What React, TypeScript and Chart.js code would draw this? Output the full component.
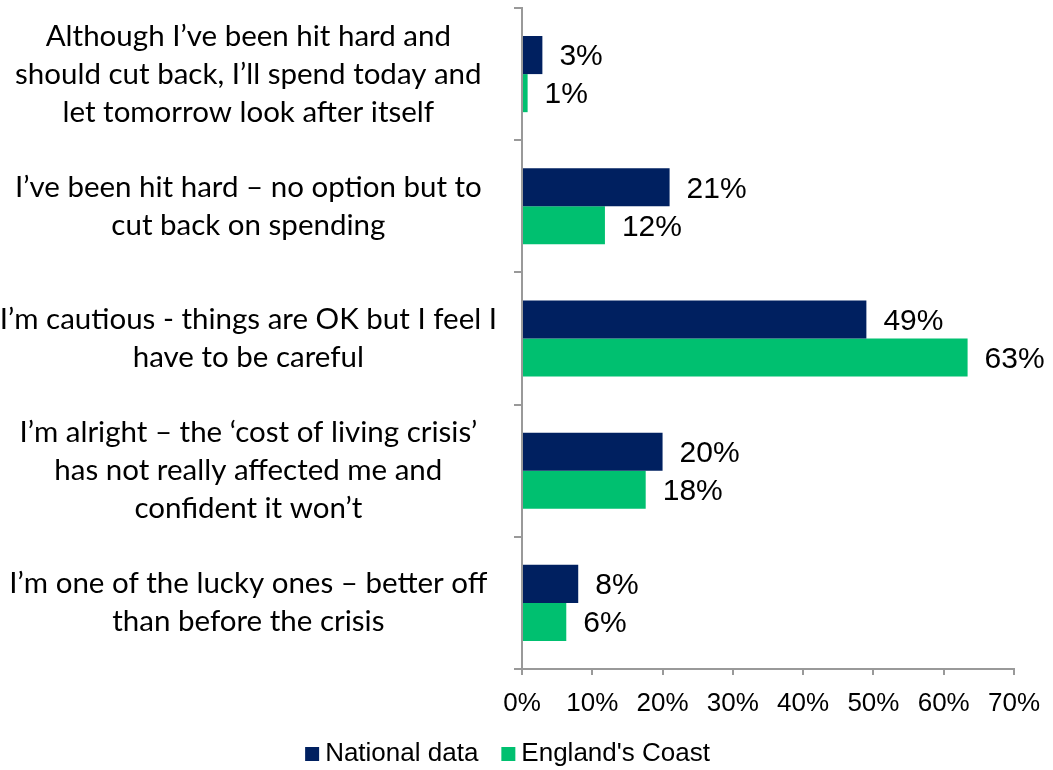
import React, { useEffect, useRef } from "react";
import { Chart, registerables } from "chart.js";

Chart.register(...registerables);

const categories: string[][] = [
  ["Although I’ve been hit hard and", "should cut back, I’ll spend today and", "let tomorrow look after itself"],
  ["I’ve been hit hard – no option but to", "cut back on spending"],
  ["I’m cautious - things are OK but I feel I", "have to be careful"],
  ["I’m alright – the ‘cost of living crisis’", "has not really affected me and", "confident it won’t"],
  ["I’m one of the lucky ones – better off", "than before the crisis"],
];

const nationalData = [2.9, 21.0, 49.0, 20.0, 8.0];
const coastData = [0.8, 11.8, 63.4, 17.6, 6.3];
const seriesNames = ["National data", "England's Coast"];
const xTickMax = 70;
const xTickStep = 10;

const ARIAL = '"Liberation Sans", Arial, sans-serif';

const dataLabelPlugin = {
  id: "dataLabels",
  afterDatasetsDraw(chart: any) {
    const ctx = chart.ctx;
    ctx.save();
    ctx.font = `30px ${ARIAL}`;
    ctx.fillStyle = "#000";
    ctx.textAlign = "left";
    ctx.textBaseline = "middle";
    chart.data.datasets.forEach((ds: any, i: number) => {
      const meta = chart.getDatasetMeta(i);
      meta.data.forEach((bar: any, j: number) => {
        const v = ds.data[j];
        ctx.fillText(Math.round(v) + "%", bar.x + 17, bar.y + 2);
      });
    });
    ctx.restore();
  },
};

export default function App() {
  const ref = useRef<HTMLCanvasElement | null>(null);
  useEffect(() => {
    if (!ref.current) return;
    const chart = new Chart(ref.current, {
      type: "bar",
      data: {
        labels: categories,
        datasets: [
          {
            label: seriesNames[0],
            data: nationalData,
            backgroundColor: "#002060",
            borderWidth: 0,
            categoryPercentage: 0.576,
            barPercentage: 1.0,
          },
          {
            label: seriesNames[1],
            data: coastData,
            backgroundColor: "#00C070",
            borderWidth: 0,
            categoryPercentage: 0.576,
            barPercentage: 1.0,
          },
        ],
      },
      options: {
        indexAxis: "y",
        animation: false,
        responsive: false,
        layout: { padding: { top: 8, left: 0, right: 31, bottom: -7 } },
        plugins: {
          legend: {
            position: "bottom",
            labels: {
              usePointStyle: true,
              pointStyle: "rect",
              boxWidth: 0.01,
              boxHeight: 14,
              padding: 30,
              color: "#000",
              font: { family: ARIAL, size: 26 },
            },
          },
          tooltip: { enabled: false },
        },
        scales: {
          x: {
            min: 0,
            max: xTickMax,
            ticks: {
              stepSize: xTickStep,
              callback: (v: any) => v + "%",
              color: "#000",
              font: { family: ARIAL, size: 26 },
              padding: 13,
              maxRotation: 0,
            },
            grid: { drawOnChartArea: false, drawTicks: true, tickLength: 6, color: "#999", lineWidth: 2 },
            border: { color: "#999", width: 2 },
            afterFit: (scale: any) => {
              scale.height = 42;
            },
          },
          y: {
            ticks: {
              crossAlign: "center",
              color: "#000",
              font: { family: "Lato", size: 29.5, lineHeight: 1.29 },
              padding: 17,
              autoSkip: false,
            },
            grid: { drawOnChartArea: false, drawTicks: true, tickLength: 8, color: "#999", lineWidth: 2, offset: true },
            border: { color: "#999", width: 2 },
            afterFit: (scale: any) => {
              scale.width = 522;
              scale.paddingTop = 0;
              scale.paddingBottom = 0;
            },
          },
        },
      },
      plugins: [dataLabelPlugin],
    } as any);
    return () => chart.destroy();
  }, []);
  return (
    <div style={{ position: "fixed", left: 0, top: 0, width: 1053, height: 770, background: "#fff" }}>
      <canvas ref={ref} width={1053} height={770} />
    </div>
  );
}
